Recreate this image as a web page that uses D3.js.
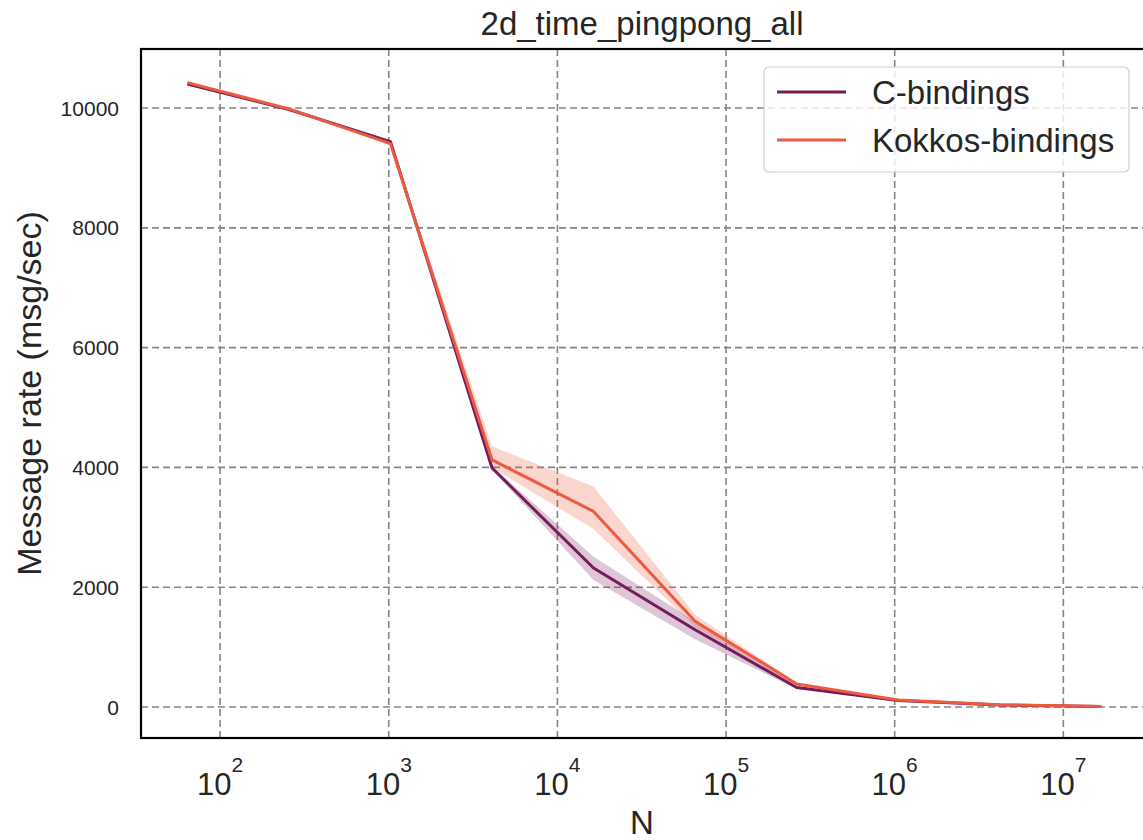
<!DOCTYPE html>
<html>
<head>
<meta charset="utf-8">
<title>2d_time_pingpong_all</title>
<script src="https://d3js.org/d3.v7.min.js"></script>
<style>
  body { margin: 0; background: #fff; }
  text { font-family: "Liberation Sans", Arial, sans-serif; fill: #262626; }
</style>
</head>
<body>
<div id="chart"></div>
<script>
// message sizes (x values)
const sizes = [64, 256, 1024, 4096, 16384, 65536, 262144, 1048576, 4194304, 16777216];

// C-bindings: mean and confidence band
const cMean = [10400, 9975, 9440, 3990, 2320, 1290, 325, 108, 35, 8];
const cLow  = [10380, 9960, 9420, 3960, 2120, 1130, 300, 100, 30, 6];
const cHigh = [10420, 9990, 9460, 4020, 2510, 1430, 350, 116, 40, 10];

// Kokkos-bindings: mean and confidence band
const kMean = [10425, 9985, 9405, 4125, 3265, 1430, 385, 118, 38, 9];
const kLow  = [10405, 9970, 9375, 3995, 2970, 1340, 360, 110, 32, 7];
const kHigh = [10445, 10000, 9435, 4350, 3680, 1540, 410, 126, 44, 11];

const seriesNames = ["C-bindings", "Kokkos-bindings"];
const seriesColors = ["#761c5d", "#ec5b3f"];

const yTicks = [0, 2000, 4000, 6000, 8000, 10000];
const xTickExp = [2, 3, 4, 5, 6, 7];

const W = 1143, H = 840;
const plot = {left: 141, top: 49, right: 1147, bottom: 738};

const svg = d3.select("#chart").append("svg")
  .attr("width", W)
  .attr("height", H);

const x = d3.scaleLog()
  .domain([Math.pow(10, 1.531), Math.pow(10, 7.496)])
  .range([plot.left, plot.right]);

const y = d3.scaleLinear()
  .domain([-518, 10986])
  .range([plot.bottom, plot.top]);

// grid
const grid = svg.append("g")
  .attr("stroke", "#858585")
  .attr("stroke-width", 1.6)
  .attr("stroke-dasharray", "7,4");
grid.selectAll("line.gy")
  .data(yTicks)
  .join("line")
    .attr("x1", plot.left).attr("x2", plot.right)
    .attr("y1", d => y(d)).attr("y2", d => y(d));
grid.selectAll("line.gx")
  .data(xTickExp)
  .join("line")
    .attr("x1", d => x(Math.pow(10, d))).attr("x2", d => x(Math.pow(10, d)))
    .attr("y1", plot.top).attr("y2", plot.bottom);

// data
const series = [
  {name: seriesNames[0], color: seriesColors[0], mean: cMean, low: cLow, high: cHigh},
  {name: seriesNames[1], color: seriesColors[1], mean: kMean, low: kLow, high: kHigh}
];

const area = d3.area()
  .x((d, i) => x(sizes[i]))
  .y0(d => y(d[0]))
  .y1(d => y(d[1]));

const line = d3.line()
  .x((d, i) => x(sizes[i]))
  .y(d => y(d));

series.forEach(s => {
  svg.append("path")
    .datum(s.low.map((v, i) => [v, s.high[i]]))
    .attr("d", area)
    .attr("fill", s.color)
    .attr("fill-opacity", 0.25)
    .attr("stroke", "none");
});
series.forEach(s => {
  svg.append("path")
    .datum(s.mean)
    .attr("d", line)
    .attr("fill", "none")
    .attr("stroke", s.color)
    .attr("stroke-width", 3)
    .attr("stroke-linejoin", "round");
});

// frame
svg.append("rect")
  .attr("x", plot.left).attr("y", plot.top)
  .attr("width", plot.right - plot.left)
  .attr("height", plot.bottom - plot.top)
  .attr("fill", "none")
  .attr("stroke", "#000")
  .attr("stroke-width", 2.2);

// y tick labels
svg.append("g").selectAll("text")
  .data(yTicks)
  .join("text")
    .attr("x", 119)
    .attr("y", d => y(d))
    .attr("dy", "0.36em")
    .attr("text-anchor", "end")
    .style("font-size", "21px")
    .text(d => d);

// x tick labels as 10^n
const xt = svg.append("g").selectAll("text")
  .data(xTickExp)
  .join("text")
    .attr("x", d => x(Math.pow(10, d)))
    .attr("y", 795)
    .attr("text-anchor", "middle")
    .style("font-size", "31px");
xt.append("tspan").text("10");
xt.append("tspan")
  .attr("dy", -23)
  .style("font-size", "21px")
  .text(d => d);

// axis titles
svg.append("text")
  .attr("x", (plot.left + 1143) / 2)
  .attr("y", 35)
  .attr("text-anchor", "middle")
  .style("font-size", "33px")
  .text("2d_time_pingpong_all");

svg.append("text")
  .attr("x", (plot.left + 1143) / 2)
  .attr("y", 834)
  .attr("text-anchor", "middle")
  .style("font-size", "33px")
  .text("N");

svg.append("text")
  .attr("transform", `translate(41, ${(plot.top + plot.bottom) / 2}) rotate(-90)`)
  .attr("text-anchor", "middle")
  .style("font-size", "34px")
  .text("Message rate (msg/sec)");

// legend
const legend = svg.append("g");
legend.append("rect")
  .attr("x", 764).attr("y", 67)
  .attr("width", 365).attr("height", 105)
  .attr("rx", 5)
  .attr("fill", "#fff")
  .attr("fill-opacity", 0.8)
  .attr("stroke", "#d0d0d0")
  .attr("stroke-width", 1.2);
const items = legend.selectAll("g.item")
  .data(series)
  .join("g")
    .attr("transform", (d, i) => `translate(0, ${92 + i * 48})`);
items.append("line")
  .attr("x1", 777).attr("x2", 846)
  .attr("stroke", d => d.color)
  .attr("stroke-width", 3);
items.append("text")
  .attr("x", 872)
  .attr("dy", "0.36em")
  .style("font-size", "33px")
  .text(d => d.name);
</script>
</body>
</html>
